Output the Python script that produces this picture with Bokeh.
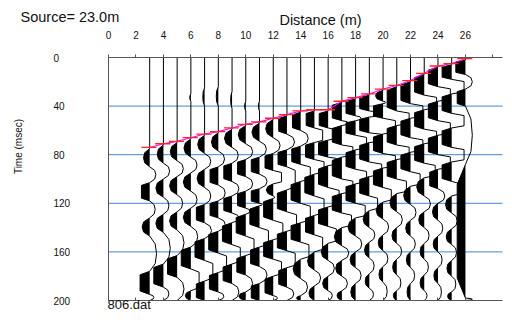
from bokeh.plotting import figure
from bokeh.models import Range1d, LinearAxis, FixedTicker, Label
from bokeh.embed import file_html
from bokeh.resources import INLINE

# ---------------- data ----------------
distance_ticks = [0, 2, 4, 6, 8, 10, 12, 14, 16, 18, 20, 22, 24, 26]
distance_extra_ticks = [28]
time_ticks = [0, 40, 80, 120, 160, 200]
grid_times = [40, 80, 120, 160]
source_text = "Source= 23.0m"
file_text = "806.dat"
x_extent = (0, 28.7)
t_extent = (0, 200)

trace_x = [3, 4, 5, 6, 7, 8, 9, 10, 11, 12, 13, 14, 15, 16, 17, 18, 19, 20, 21, 22, 23, 24, 25, 26]
pick_t = [74, 71, 69, 66, 63, 61, 58, 55, 53, 50, 47, 44, 43, 43, 36, 33, 30, 26, 23, 19, 13, 7, 5, 1]

# wiggle lobes per trace: (start ms, end ms, amplitude in trace spacings, negative = black, to the left)
lobes_03 = [(75, 90, -0.45), (90, 103, 0.45), (103, 118, -0.6), (118, 132, 0.4), (132, 147, -0.55), (147, 176, 0.5), (176, 195, -0.7), (195, 200, 0.3)]
lobes_04 = [(72, 87, -0.45), (87, 100, 0.45), (100, 115, -0.55), (115, 129, 0.4), (129, 144, -0.55), (144, 170, 0.5), (170, 189, -0.7), (189, 200, 0.4)]
lobes_05 = [(70, 85, -0.5), (85, 98, 0.45), (98, 113, -0.55), (113, 127, 0.4), (127, 142, -0.55), (142, 163, 0.5), (163, 181, -0.7), (181, 200, 0.5)]
lobes_06 = [(30, 36, -0.08), (67, 82, -0.5), (82, 95, 0.45), (95, 110, -0.55), (110, 124, 0.45), (124, 139, -0.55), (139, 156, 0.5), (156, 174, -0.7), (174, 192, 0.6), (192, 200, -0.4)]
lobes_07 = [(25, 40, -0.13), (64, 79, -0.5), (79, 92, 0.45), (92, 107, -0.55), (107, 121, 0.45), (121, 136, -0.6), (136, 149, 0.5), (149, 167, -0.7), (167, 184, 0.6), (184, 200, -0.6)]
lobes_08 = [(24, 40, -0.15), (62, 77, -0.5), (77, 90, 0.45), (90, 105, -0.6), (105, 118, 0.5), (118, 132, -0.6), (132, 143, 0.5), (143, 161, -0.7), (161, 177, 0.6), (177, 193, -0.65), (193, 200, 0.4)]
lobes_09 = [(28, 42, -0.1), (59, 74, -0.55), (74, 87, 0.45), (87, 102, -0.6), (102, 114, 0.5), (114, 128, -0.6), (128, 136, 0.5), (136, 154, -0.7), (154, 170, 0.6), (170, 186, -0.65), (186, 200, 0.5)]
lobes_10 = [(36, 44, -0.08), (56, 71, -0.55), (71, 84, 0.5), (84, 98, -0.6), (98, 110, 0.5), (110, 124, -0.6), (124, 129, 0.3), (129, 147, -0.7), (147, 163, 0.6), (163, 179, -0.65), (179, 193, 0.5), (193, 200, -0.5)]
lobes_11 = [(36, 44, -0.08), (54, 69, -0.55), (69, 82, 0.5), (82, 96, -0.6), (96, 108, 0.55), (108, 120, -0.6), (120, 122, 0.2), (122, 140, -0.7), (140, 156, 0.65), (156, 172, -0.65), (172, 186, 0.55), (186, 200, -0.6)]
lobes_12 = [(51, 66, -0.55), (66, 79, 0.5), (79, 93, -0.6), (93, 104, 0.6), (104, 114, -0.5), (114, 116, 0.1), (116, 134, -0.7), (134, 150, 0.7), (150, 166, -0.7), (166, 180, 0.6), (180, 196, -0.6), (196, 200, 0.3)]
lobes_13 = [(48, 63, -0.6), (63, 76, 0.55), (76, 90, -0.65), (90, 109, 0.6), (109, 127, -0.7), (127, 143, 0.7), (143, 159, -0.7), (159, 173, 0.6), (173, 189, -0.6), (189, 200, 0.5)]
lobes_14 = [(45, 60, -0.6), (60, 73, 0.55), (73, 88, -0.65), (88, 102, 0.7), (102, 120, -0.7), (120, 136, 0.7), (136, 152, -0.7), (152, 166, 0.6), (166, 182, -0.55), (182, 196, 0.5), (196, 200, -0.3)]
lobes_15 = [(44, 58, -0.6), (58, 70, 0.6), (70, 84, -0.65), (84, 96, 0.7), (96, 114, -0.7), (114, 130, 0.7), (130, 146, -0.65), (146, 160, 0.6), (160, 175, -0.5), (175, 188, 0.45), (188, 200, -0.4)]
lobes_16 = [(44, 58, -0.65), (58, 68, 0.6), (68, 82, -0.7), (82, 89, 0.6), (89, 107, -0.7), (107, 123, 0.8), (123, 139, -0.7), (139, 153, 0.6), (153, 167, -0.5), (167, 180, 0.45), (180, 192, -0.4), (192, 200, 0.3)]
lobes_17 = [(37, 52, -0.7), (52, 56, 0.5), (56, 72, -0.7), (72, 82, 0.8), (82, 100, -0.7), (100, 112, 0.8), (112, 128, -0.7), (128, 140, 0.7), (140, 155, -0.55), (155, 167, 0.5), (167, 180, -0.45), (180, 192, 0.4), (192, 200, -0.35)]
lobes_18 = [(34, 48, -0.7), (48, 52, 0.4), (52, 64, -0.7), (64, 76, 0.8), (76, 92, -0.7), (92, 104, 0.8), (104, 120, -0.7), (120, 132, 0.7), (132, 147, -0.55), (147, 160, 0.45), (160, 173, -0.4), (173, 186, 0.4), (186, 200, -0.35)]
lobes_19 = [(31, 44, -0.7), (44, 49, 0.6), (49, 62, -0.7), (62, 70, 0.9), (70, 86, -0.7), (86, 98, 0.9), (98, 114, -0.7), (114, 126, 0.6), (126, 140, -0.45), (140, 152, 0.4), (152, 165, -0.35), (165, 178, 0.35), (178, 190, -0.3), (190, 200, 0.3)]
lobes_20 = [(27, 36, -0.55), (36, 38, 0.2), (38, 50, -0.7), (50, 63, 0.9), (63, 79, -0.7), (79, 91, 0.9), (91, 107, -0.7), (107, 119, 0.6), (119, 133, -0.5), (133, 146, 0.4), (146, 159, -0.35), (159, 172, 0.35), (172, 185, -0.3), (185, 200, 0.3)]
lobes_21 = [(24, 44, -0.7), (44, 56, 0.9), (56, 72, -0.7), (72, 84, 0.9), (84, 100, -0.7), (100, 112, 0.7), (112, 127, -0.5), (127, 140, 0.4), (140, 153, -0.35), (153, 166, 0.35), (166, 179, -0.3), (179, 192, 0.3), (192, 200, -0.25)]
lobes_22 = [(20, 38, -0.7), (38, 50, 0.9), (50, 66, -0.7), (66, 78, 0.9), (78, 94, -0.7), (94, 106, 0.7), (106, 121, -0.5), (121, 134, 0.4), (134, 147, -0.35), (147, 160, 0.35), (160, 173, -0.3), (173, 186, 0.3), (186, 200, -0.25)]
lobes_23 = [(14, 31, -0.7), (31, 43, 0.9), (43, 59, -0.7), (59, 71, 0.9), (71, 87, -0.7), (87, 99, 0.8), (99, 114, -0.55), (114, 127, 0.45), (127, 140, -0.4), (140, 153, 0.35), (153, 166, -0.3), (166, 179, 0.3), (179, 192, -0.3), (192, 200, 0.2)]
lobes_24 = [(8, 24, -0.7), (24, 36, 0.9), (36, 52, -0.7), (52, 64, 0.9), (64, 80, -0.7), (80, 92, 0.9), (92, 108, -0.6), (108, 120, 0.5), (120, 134, -0.4), (134, 147, 0.35), (147, 160, -0.35), (160, 173, 0.3), (173, 186, -0.3), (186, 200, 0.25)]
lobes_25 = [(6, 18, -0.7), (18, 30, 0.9), (30, 46, -0.7), (46, 58, 0.9), (58, 74, -0.7), (74, 86, 0.9), (86, 102, -0.7), (102, 114, 0.6), (114, 128, -0.45), (128, 141, 0.4), (141, 154, -0.4), (154, 167, 0.35), (167, 180, -0.35), (180, 193, 0.3), (193, 200, -0.3)]
lobes_26 = [(2, 14, -0.7), (14, 26, 0.5), (26, 40, -0.6), (40, 88, 0.5), (88, 198, -0.6), (198, 200, 0.5)]

all_lobes = [lobes_03, lobes_04, lobes_05, lobes_06, lobes_07, lobes_08, lobes_09, lobes_10,
             lobes_11, lobes_12, lobes_13, lobes_14, lobes_15, lobes_16, lobes_17, lobes_18,
             lobes_19, lobes_20, lobes_21, lobes_22, lobes_23, lobes_24, lobes_25, lobes_26]

# ---------------- geometry: the frame fills the whole canvas ----------------
W, H = 504, 312
LEFT, TOP = 108, 57          # canvas pixel of distance 0 / time 0
PX = 394 / 28.7              # px per metre
PY = 243 / 200.0             # px per ms

x_rng = Range1d(-LEFT / PX, (W - LEFT) / PX)
y_rng = Range1d((H - TOP) / PY, -TOP / PY)

p = figure(width=W, height=H, x_range=x_rng, y_range=y_rng,
           output_backend="svg", toolbar_location=None,
           x_axis_location=None, y_axis_location=None, min_border=0)
p.outline_line_color = None
p.background_fill_color = "white"
p.grid.visible = False

FONT = "Liberation Sans"
AX = "#555555"
TXT = "#111111"

top = LinearAxis(fixed_location=0, bounds=x_extent,
                 ticker=FixedTicker(ticks=distance_ticks, minor_ticks=distance_extra_ticks))
top.major_tick_out = 3
top.major_tick_in = 0
top.minor_tick_out = 3
top.minor_tick_in = 0
top.axis_line_color = AX
top.major_tick_line_color = AX
top.minor_tick_line_color = AX
top.major_label_text_font = FONT
top.major_label_text_font_size = "10px"
top.major_label_text_color = TXT
top.major_label_standoff = 16
p.add_layout(top, "above")

bottom = LinearAxis(fixed_location=200, bounds=x_extent,
                    ticker=FixedTicker(ticks=[], minor_ticks=distance_ticks))
bottom.axis_line_color = AX
bottom.major_tick_in = 0
bottom.major_tick_out = 0
bottom.minor_tick_in = 3
bottom.minor_tick_out = 0
bottom.minor_tick_line_color = AX
p.add_layout(bottom, "below")

left = LinearAxis(fixed_location=0, bounds=t_extent, ticker=FixedTicker(ticks=[]))
left.axis_line_color = AX
left.major_tick_in = 0
left.major_tick_out = 0
left.minor_tick_in = 0
left.minor_tick_out = 0
p.add_layout(left, "left")

# blue horizontal grid lines across the plotting box
p.segment(x0=[x_extent[0]] * len(grid_times), x1=[x_extent[1]] * len(grid_times),
          y0=grid_times, y1=grid_times, line_color="#3f86d6", line_width=1)

# ---------------- wiggle traces ----------------
T_END = t_extent[1]
for x0, lobes in zip(trace_x, all_lobes):
    ts, amps = [0.0], [0.0]
    for t0, t1, a in lobes:
        d = t1 - t0
        if ts[-1] < t0:
            ts.append(t0)
            amps.append(0.0)
        if abs(a) >= 0.6:
            ts += [t0 + 0.15 * d, t1 - 0.15 * d, t1]
            amps += [a, a, 0.0]
        else:
            ts += [t0 + 0.22 * d, t0 + 0.5 * d, t1 - 0.22 * d, t1]
            amps += [0.8 * a, a, 0.8 * a, 0.0]
    if ts[-1] < T_END:
        ts.append(T_END)
        amps.append(0.0)
    xs = [x0 + a for a in amps]
    neg = [x0 + min(a, 0.0) for a in amps]
    p.harea(y=ts, x1=[x0] * len(ts), x2=neg, fill_color="black")
    p.line(x=xs, y=ts, line_color="black", line_width=1)

# ---------------- first-break picks ----------------
p.line(x=trace_x, y=pick_t, line_color="#ff00ff", line_width=1.1)
p.segment(x0=[x - 0.6 for x in trace_x], x1=[x + 0.5 for x in trace_x],
          y0=pick_t, y1=pick_t, line_color="#ff2424", line_width=1.3)

# ---------------- texts ----------------
def xd(px):
    return (px - LEFT) / PX

def yd(py):
    return (py - TOP) / PY

for tv in time_ticks:
    p.add_layout(Label(x=xd(53), y=tv, text=str(tv), text_font=FONT, text_font_size="10px",
                       text_align="left", text_baseline="middle", text_color=TXT))

p.add_layout(Label(x=xd(18), y=yd(146), text="Time (msec)", angle=1.5708, text_font=FONT,
                   text_font_size="10px", text_align="center", text_baseline="middle",
                   text_color=TXT))
p.add_layout(Label(x=xd(20), y=yd(16), text=source_text, text_font=FONT, text_font_size="14.5px",
                   text_align="left", text_baseline="middle", text_color=TXT))
p.add_layout(Label(x=xd(320), y=yd(19), text="Distance (m)", text_font=FONT, text_font_size="14.5px",
                   text_align="center", text_baseline="middle", text_color=TXT))
p.add_layout(Label(x=xd(107), y=yd(303.5), text=file_text, text_font=FONT, text_font_size="13px",
                   text_align="left", text_baseline="middle", text_color=TXT))

open("out.html", "w").write(file_html(p, INLINE))
